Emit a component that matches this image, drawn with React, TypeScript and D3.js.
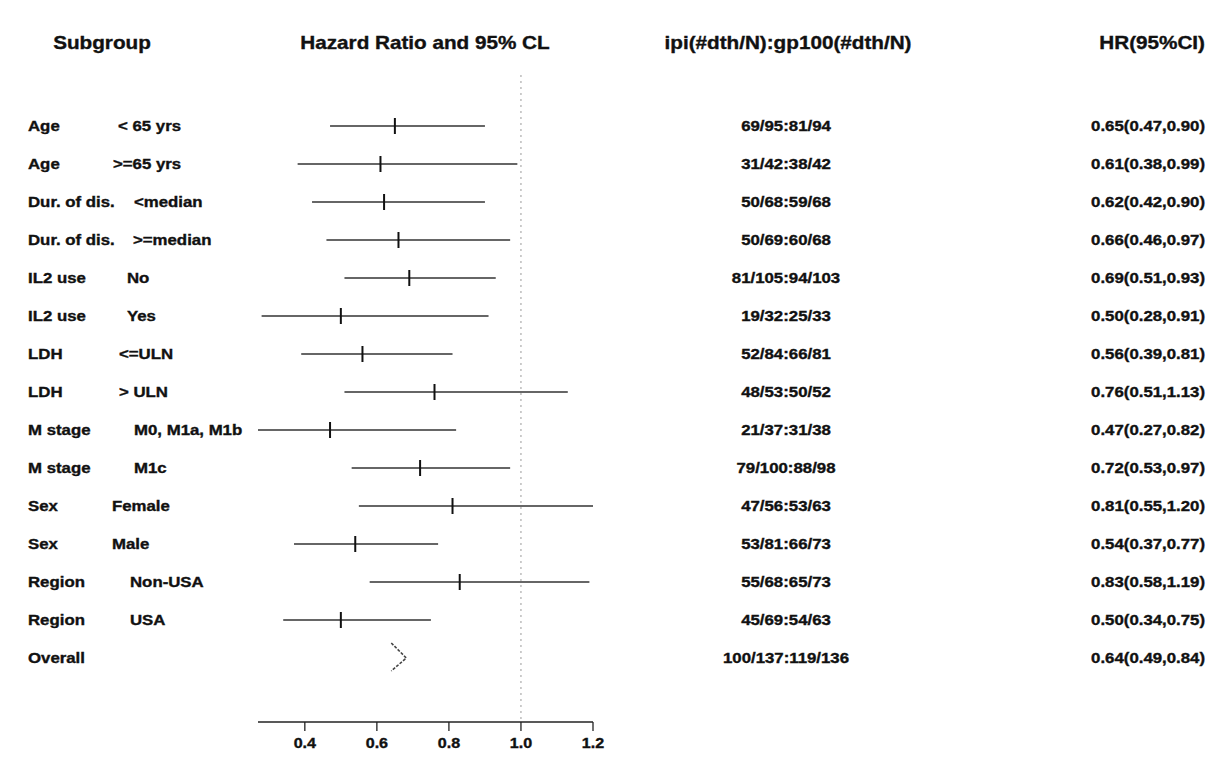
import React from "react";
import * as d3 from "d3";

const categories = ["Age", "Age", "Dur. of dis.", "Dur. of dis.", "IL2 use", "IL2 use", "LDH", "LDH", "M stage", "M stage", "Sex", "Sex", "Region", "Region", "Overall"];
const levels = ["< 65 yrs", ">=65 yrs", "<median", ">=median", "No", "Yes", "<=ULN", "> ULN", "M0, M1a, M1b", "M1c", "Female", "Male", "Non-USA", "USA", ""];
const counts = ["69/95:81/94", "31/42:38/42", "50/68:59/68", "50/69:60/68", "81/105:94/103", "19/32:25/33", "52/84:66/81", "48/53:50/52", "21/37:31/38", "79/100:88/98", "47/56:53/63", "53/81:66/73", "55/68:65/73", "45/69:54/63", "100/137:119/136"];
const hr = [0.65, 0.61, 0.62, 0.66, 0.69, 0.50, 0.56, 0.76, 0.47, 0.72, 0.81, 0.54, 0.83, 0.50, 0.64];
const lower = [0.47, 0.38, 0.42, 0.46, 0.51, 0.28, 0.39, 0.51, 0.27, 0.53, 0.55, 0.37, 0.58, 0.34, 0.49];
const upper = [0.90, 0.99, 0.90, 0.97, 0.93, 0.91, 0.81, 1.13, 0.82, 0.97, 1.20, 0.77, 1.19, 0.75, 0.84];
const tickValues = [0.4, 0.6, 0.8, 1.0, 1.2];
const headers = ["Subgroup", "Hazard Ratio and 95% CL", "ipi(#dth/N):gp100(#dth/N)", "HR(95%CI)"];

// layout only (x of the level label per row)
const levelX = [118, 113, 134, 133, 127, 127, 119, 119, 134, 134, 112, 112, 130, 130, 130];

const FONT = "'Liberation Sans', Arial, Helvetica, sans-serif";
const SX = 1.2;

function T({ x, y, anchor = "start", size = 14, sx = SX, children }: any) {
  return (
    <text
      transform={`translate(${x},${y}) scale(${sx},1)`}
      textAnchor={anchor}
      fontFamily={FONT}
      fontWeight="bold"
      fontSize={size}
      fill="#111"
      stroke="#111"
      strokeWidth={0.35}
    >
      {children}
    </text>
  );
}

export default function App() {
  const W = 1220, H = 760;
  const n = categories.length;
  const x = d3.scaleLinear()
    .domain([d3.min(lower) as number, d3.max(upper) as number])
    .range([258, 593]);
  const y = d3.scalePoint<number>()
    .domain(d3.range(n))
    .range([126, 658]);
  const axisY = 722;
  const fmt = d3.format(".1f");
  const hrFmt = d3.format(".2f");
  const last = n - 1;

  return (
    <svg width={W} height={H} style={{ position: "absolute", left: 0, top: 0, background: "#fff" }}>
      <rect width={W} height={H} fill="#fff" />
      {/* headers */}
      <T x={102} y={49} anchor="middle" size={18} sx={1.15}>{headers[0]}</T>
      <T x={425} y={49} anchor="middle" size={18} sx={1.15}>{headers[1]}</T>
      <T x={788} y={49} anchor="middle" size={18} sx={1.15}>{headers[2]}</T>
      <T x={1205} y={49} anchor="end" size={18} sx={1.15}>{headers[3]}</T>

      {/* reference line at HR = 1 */}
      <line x1={x(1)} x2={x(1)} y1={75} y2={axisY} stroke="#9a9a9a" strokeWidth={1} strokeDasharray="2,4" />

      {/* rows */}
      {categories.map((c, i) => {
        const yy = y(i) as number;
        return (
          <g key={i}>
            <T x={28} y={yy + 5}>{c}</T>
            {levels[i] && <T x={levelX[i]} y={yy + 5}>{levels[i]}</T>}
            <T x={786} y={yy + 5} anchor="middle">{counts[i]}</T>
            <T x={1205} y={yy + 5} anchor="end">{`${hrFmt(hr[i])}(${hrFmt(lower[i])},${hrFmt(upper[i])})`}</T>
            {i !== last && (
              <g>
                <line x1={x(lower[i])} x2={x(upper[i])} y1={yy} y2={yy} stroke="#333" strokeWidth={1.3} />
                <line x1={x(hr[i])} x2={x(hr[i])} y1={yy - 8} y2={yy + 8} stroke="#111" strokeWidth={2} />
              </g>
            )}
            {i === last && (
              <polyline
                points={`${x(hr[i])},${yy - 15} ${x(hr[i]) + 15},${yy} ${x(hr[i])},${yy + 13}`}
                fill="none"
                stroke="#444"
                strokeWidth={1.6}
                strokeDasharray="3,1.5"
              />
            )}
          </g>
        );
      })}

      {/* axis */}
      <line x1={x.range()[0]} x2={x.range()[1]} y1={axisY} y2={axisY} stroke="#222" strokeWidth={1.5} />
      {tickValues.map((t) => (
        <g key={t}>
          <line x1={x(t)} x2={x(t)} y1={axisY} y2={axisY + 9} stroke="#222" strokeWidth={1.3} />
          <T x={x(t)} y={748} anchor="middle" sx={1.15}>{fmt(t)}</T>
        </g>
      ))}
    </svg>
  );
}
